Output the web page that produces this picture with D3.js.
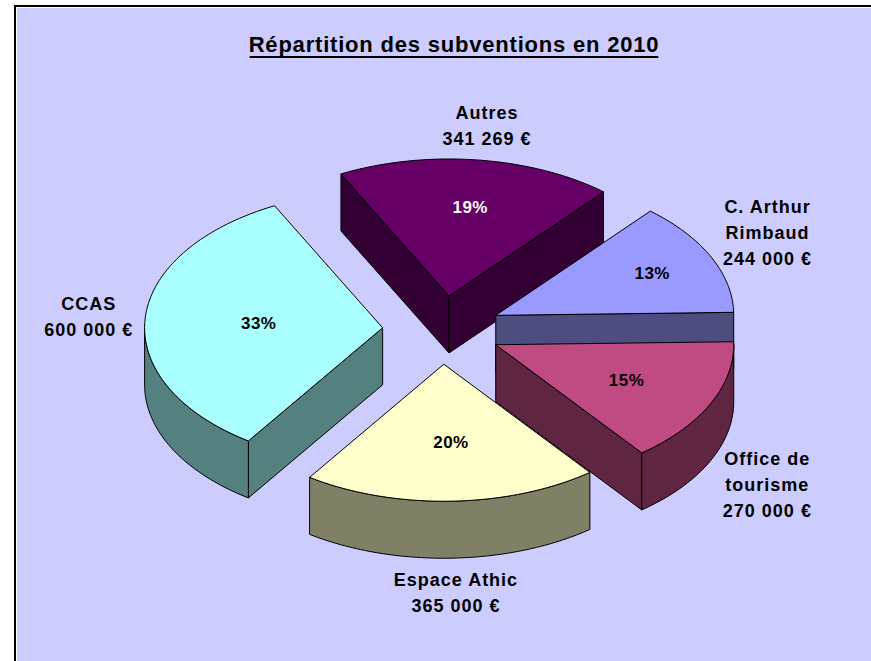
<!DOCTYPE html>
<html>
<head>
<meta charset="utf-8">
<script src="https://cdn.jsdelivr.net/npm/d3@7"></script>
<style>
  body { margin: 0; background: #fff; }
  svg { display: block; font-family: Arial, "Liberation Sans", sans-serif; font-weight: bold; }
</style>
</head>
<body>
<svg id="chart"></svg>
<script>
// values, clockwise from the top slice
const categories = ['Autres', 'C. Arthur Rimbaud', 'Office de tourisme', 'Espace Athic', 'CCAS'];
const labelLines = [['Autres'], ['C. Arthur', 'Rimbaud'], ['Office de', 'tourisme'], ['Espace Athic'], ['CCAS']];
const amounts = [341269, 244000, 270000, 365000, 600000];
const chartTitle = 'Répartition des subventions en 2010';

class Pie3D {

  constructor(_config, _data) {
    this.config = {
      parentElement: _config.parentElement,
      containerWidth: _config.containerWidth || 871,
      containerHeight: _config.containerHeight || 661,
      center: {x: 442, y: 330},
      rx: 238,
      ry: 137,
      depth: 57,
      explode: 0.25,
      startAngle: 333,
      labelRadius: 1.5,
      lineHeight: 26,
      topColors: ['#660066', '#9999ff', '#c04a82', '#ffffcc', '#aaffff'],
      sideColors: ['#330033', '#4d4d80', '#602541', '#808066', '#558080'],
      pctColors: ['#fff', '#000', '#000', '#000', '#000']
    };
    this.data = _data;
    this.initVis();
  }

  initVis() {
    let vis = this;
    const cfg = vis.config;

    vis.svg = d3.select(cfg.parentElement)
      .attr('width', cfg.containerWidth)
      .attr('height', cfg.containerHeight);

    // frame: black rule, thin white gap, lavender plot area
    vis.svg.append('rect')
      .attr('x', 14).attr('y', 5)
      .attr('width', cfg.containerWidth).attr('height', cfg.containerHeight)
      .attr('fill', '#000');
    vis.svg.append('rect')
      .attr('x', 16).attr('y', 7)
      .attr('width', cfg.containerWidth).attr('height', cfg.containerHeight)
      .attr('fill', '#fff');
    vis.svg.append('rect')
      .attr('x', 17).attr('y', 8)
      .attr('width', cfg.containerWidth).attr('height', cfg.containerHeight)
      .attr('fill', '#ccccff');

    // unit ellipse -> pixels
    vis.xScale = d3.scaleLinear()
      .domain([-1, 1])
      .range([cfg.center.x - cfg.rx, cfg.center.x + cfg.rx]);
    vis.yScale = d3.scaleLinear()
      .domain([-1, 1])
      .range([cfg.center.y - cfg.ry, cfg.center.y + cfg.ry]);

    const a0 = cfg.startAngle * Math.PI / 180;
    vis.pie = d3.pie()
      .sort(null)
      .value(d => d.amount)
      .startAngle(a0)
      .endAngle(a0 + 2 * Math.PI);

    vis.shape = d3.line().curve(d3.curveLinearClosed);

    vis.fmtPct = d3.format('.0%');
    vis.fmtEuro = d3.formatLocale({decimal: ',', thousands: ' ', grouping: [3], currency: ['', ' €']}).format('$,');

    vis.chart = vis.svg.append('g');
    vis.labels = vis.svg.append('g');

    // title with underline
    vis.title = vis.svg.append('text')
      .attr('x', 454)
      .attr('y', 52)
      .attr('text-anchor', 'middle')
      .attr('font-size', 22)
      .attr('letter-spacing', 0.8)
      .text(chartTitle);
    const tb = vis.title.node().getBBox();
    vis.svg.append('rect')
      .attr('x', tb.x + 1)
      .attr('y', 56)
      .attr('width', tb.width - 2)
      .attr('height', 2)
      .attr('fill', '#000');
  }

  // point on a slice at angle a, radius r (unit), z pixels down
  pt(s, a, r, z) {
    let vis = this;
    return [vis.xScale(s.ox + r * Math.sin(a)), vis.yScale(s.oy - r * Math.cos(a)) + z];
  }

  arcPts(s, a0, a1, z) {
    let vis = this;
    const n = Math.max(2, Math.ceil(Math.abs(a1 - a0) / (Math.PI / 180)) + 1);
    return d3.range(n).map(i => vis.pt(s, a0 + (a1 - a0) * i / (n - 1), 1, z));
  }

  updateVis() {
    let vis = this;
    const cfg = vis.config;
    vis.total = d3.sum(vis.data, d => d.amount);

    vis.slices = vis.pie(vis.data).map((d, i) => {
      const mid = (d.startAngle + d.endAngle) / 2;
      return Object.assign(d, {
        i: i,
        mid: mid,
        ox: cfg.explode * Math.sin(mid),
        oy: -cfg.explode * Math.cos(mid)
      });
    });

    vis.renderVis();
  }

  renderVis() {
    let vis = this;
    const cfg = vis.config;
    const h = cfg.depth;

    // back slices first
    const ordered = vis.slices.slice().sort((a, b) => a.oy - b.oy);

    ordered.forEach(s => {
      const g = vis.chart.append('g');
      const faces = [];

      // cut faces that turn toward the viewer
      [[s.startAngle, Math.sin(s.startAngle) < 0], [s.endAngle, Math.sin(s.endAngle) > 0]].forEach(([a, show]) => {
        if (!show) return;
        faces.push([vis.pt(s, a, 0, 0), vis.pt(s, a, 1, 0), vis.pt(s, a, 1, h), vis.pt(s, a, 0, h)]);
      });

      // outer wall on the front half
      for (let k = -1; k <= 2; k++) {
        const w0 = Math.max(s.startAngle, Math.PI / 2 + 2 * Math.PI * k);
        const w1 = Math.min(s.endAngle, 3 * Math.PI / 2 + 2 * Math.PI * k);
        if (w1 > w0) {
          faces.push(vis.arcPts(s, w0, w1, 0).concat(vis.arcPts(s, w1, w0, h)));
        }
      }

      g.selectAll('.side')
        .data(faces)
        .join('path')
        .attr('class', 'side')
        .attr('d', d => vis.shape(d))
        .attr('fill', cfg.sideColors[s.i])
        .attr('stroke', '#000')
        .attr('stroke-width', 1)
        .attr('stroke-linejoin', 'round');

      g.append('path')
        .attr('class', 'top')
        .attr('d', vis.shape([vis.pt(s, 0, 0, 0)].concat(vis.arcPts(s, s.startAngle, s.endAngle, 0))))
        .attr('fill', cfg.topColors[s.i])
        .attr('stroke', '#000')
        .attr('stroke-width', 1)
        .attr('stroke-linejoin', 'round');
    });

    // percentages on the slices, a bit further out toward the back right
    const pctR = d => 0.6 + 0.06 * Math.sin(d.mid) + 0.06 * Math.sin(2 * d.mid) + 0.03 * Math.cos(d.mid);
    vis.labels.selectAll('.pct')
      .data(vis.slices)
      .join('text')
      .attr('class', 'pct')
      .attr('text-anchor', 'middle')
      .attr('font-size', 17)
      .attr('letter-spacing', 0.5)
      .attr('fill', d => cfg.pctColors[d.i])
      .attr('x', d => vis.pt(d, d.mid, pctR(d), 0)[0] + 3)
      .attr('y', d => vis.pt(d, d.mid, pctR(d), 0)[1] + 6)
      .text(d => vis.fmtPct(d.value / vis.total));

    // category name and amount outside
    const outer = vis.labels.selectAll('.cat')
      .data(vis.slices)
      .join('text')
      .attr('class', 'cat')
      .attr('text-anchor', 'middle')
      .attr('font-size', 18)
      .attr('letter-spacing', 1);

    outer.each(function (d) {
      const lines = d.data.lines.concat([vis.fmtEuro(d.value)]);
      const dir = Math.cos(d.mid) < 0 ? 1 : -1;
      const cx = vis.xScale(cfg.labelRadius * Math.sin(d.mid)) + 3;
      // taller boxes grow away from the pie
      const cy = vis.yScale(-cfg.labelRadius * Math.cos(d.mid)) + (dir > 0 ? h : 0)
        + dir * (lines.length - 2) * 0.35 * cfg.lineHeight;
      const y0 = cy - (lines.length - 1) * cfg.lineHeight / 2 + 6.5;
      d3.select(this).selectAll('tspan')
        .data(lines)
        .join('tspan')
        .attr('x', cx)
        .attr('y', (t, j) => y0 + j * cfg.lineHeight)
        .text(t => t);
    });
  }
}

const data = categories.map((c, i) => ({name: c, lines: labelLines[i], amount: amounts[i]}));
const pie3d = new Pie3D({parentElement: '#chart'}, data);
pie3d.updateVis();
</script>
</body>
</html>
